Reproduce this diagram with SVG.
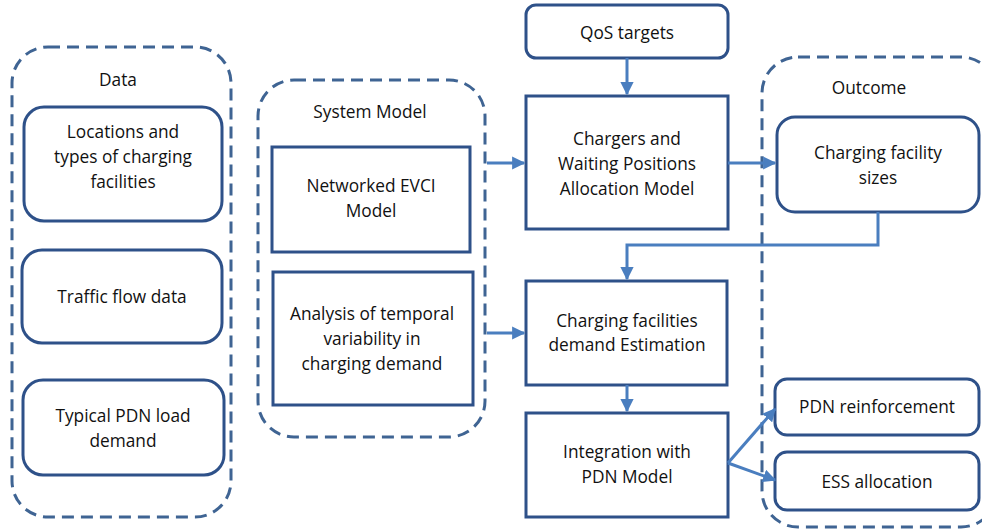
<svg xmlns="http://www.w3.org/2000/svg" width="982" height="531" viewBox="0 0 982 531">
<defs>
<marker id="ah" viewBox="0 0 10 10" refX="9" refY="5" markerWidth="4.4" markerHeight="4.4" orient="auto" markerUnits="strokeWidth">
<path d="M0,0 L10,5 L0,10 Z" fill="#4A7EBF"/>
</marker>
<style>
.grp{fill:none;stroke:#3F6493;stroke-width:3;stroke-dasharray:12 7}
.box{fill:#fff;stroke:#2E5189;stroke-width:3}
.t{font-family:"Open Sans","Liberation Sans",sans-serif;font-size:17.3px;fill:#111;text-anchor:middle}
.c{fill:none;stroke:#4A7EBF;stroke-width:3}
</style>
</defs>
<rect width="982" height="531" fill="#fff"/>
<g id="data">
<rect class="grp" x="12" y="47" width="219" height="470" rx="36"/>
<text class="t" x="118" y="86">Data</text>
</g>
<g id="locations">
<rect class="box" x="24" y="107" width="198" height="114" rx="20"/>
<text class="t" x="123" y="138">Locations and</text>
<text class="t" x="123" y="163">types of charging</text>
<text class="t" x="123" y="188">facilities</text>
</g>
<g id="traffic">
<rect class="box" x="22" y="250" width="200" height="93" rx="20"/>
<text class="t" x="122" y="303">Traffic flow data</text>
</g>
<g id="pdnload">
<rect class="box" x="23" y="380" width="201" height="95" rx="20"/>
<text class="t" x="123" y="422">Typical PDN load</text>
<text class="t" x="123" y="447">demand</text>
</g>
<g id="system">
<rect class="grp" x="258" y="80" width="227" height="357" rx="36"/>
<text class="t" x="370" y="118">System Model</text>
</g>
<g id="evci">
<rect class="box" x="272" y="147" width="198" height="105"/>
<text class="t" x="371" y="192">Networked EVCI</text>
<text class="t" x="371" y="217">Model</text>
</g>
<g id="analysis">
<rect class="box" x="273" y="272" width="200" height="133"/>
<text class="t" x="372" y="320">Analysis of temporal</text>
<text class="t" x="372" y="345">variability in</text>
<text class="t" x="372" y="370">charging demand</text>
</g>
<g id="qos">
<rect class="box" x="526" y="5" width="202" height="53" rx="10"/>
<text class="t" x="627" y="39">QoS targets</text>
</g>
<g id="chargers">
<rect class="box" x="526" y="96" width="202" height="133"/>
<text class="t" x="627" y="145">Chargers and</text>
<text class="t" x="627" y="170">Waiting Positions</text>
<text class="t" x="627" y="195">Allocation Model</text>
</g>
<g id="demand">
<rect class="box" x="526" y="281" width="201" height="104"/>
<text class="t" x="627" y="327">Charging facilities</text>
<text class="t" x="627" y="351">demand Estimation</text>
</g>
<g id="integration">
<rect class="box" x="526" y="413" width="202" height="104"/>
<text class="t" x="627" y="458">Integration with</text>
<text class="t" x="627" y="483">PDN Model</text>
</g>
<g id="outcome">
<rect class="grp" x="762" y="57" width="235" height="470" rx="36"/>
<text class="t" x="869" y="94">Outcome</text>
</g>
<g id="sizes">
<rect class="box" x="777" y="117" width="202" height="95" rx="18"/>
<text class="t" x="878" y="159">Charging facility</text>
<text class="t" x="878" y="184">sizes</text>
</g>
<g id="reinforcement">
<rect class="box" x="775" y="379" width="204" height="56" rx="12"/>
<text class="t" x="877" y="413">PDN reinforcement</text>
</g>
<g id="ess">
<rect class="box" x="775" y="452" width="204" height="58" rx="12"/>
<text class="t" x="877" y="488">ESS allocation</text>
</g>
<g id="connectors">
<line class="c" x1="627" y1="58" x2="627" y2="94" marker-end="url(#ah)"/>
<line class="c" x1="487" y1="163" x2="524" y2="163" marker-end="url(#ah)"/>
<line class="c" x1="487" y1="333" x2="524" y2="333" marker-end="url(#ah)"/>
<line class="c" x1="728" y1="163" x2="775" y2="163" marker-end="url(#ah)"/>
<polyline class="c" points="878,212 878,245 627,245 627,279" marker-end="url(#ah)"/>
<line class="c" x1="627" y1="385" x2="627" y2="411" marker-end="url(#ah)"/>
<line class="c" x1="728" y1="463" x2="775" y2="409" marker-end="url(#ah)"/>
<line class="c" x1="728" y1="463" x2="775" y2="480" marker-end="url(#ah)"/>
</g>
</svg>
